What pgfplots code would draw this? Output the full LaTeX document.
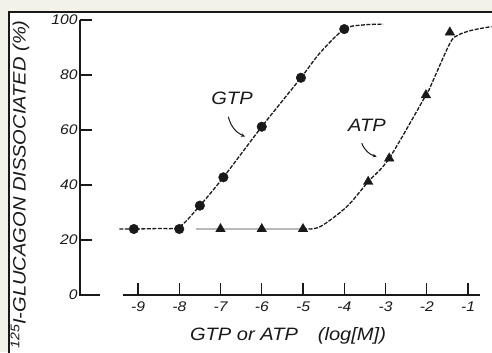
\documentclass[border=0pt]{standalone}
\usepackage{fontspec}
\setmainfont{Liberation Sans}[FakeStretch=1.12]
\usepackage{pgfplots}
\pgfplotsset{compat=1.18}
\usetikzlibrary{arrows.meta}
\definecolor{cream}{RGB}{243,242,233}
\definecolor{ink}{RGB}{25,25,25}
\begin{document}
\begin{tikzpicture}[x=1bp,y=1bp]
\useasboundingbox (0,0) rectangle (492,352);
\fill[cream] (0,0) rectangle (492,352);
\fill[white] (9,0) rectangle (492,340);
\draw[ink, line width=1.6bp] (9,-2) -- (9,340) -- (494,340);
\begin{axis}[
  at={(80bp,57bp)}, anchor=south west,
  scale only axis, width=416.87bp, height=275bp,
  xmin=-10.406, xmax=-0.3, ymin=0, ymax=100,
  clip=false,
  axis line style={draw=none},
  tick pos=left, tick align=inside,
  major tick length=12bp,
  tick style={ink, line width=1.1bp},
  xtick={-9,-8,-7,-6,-5,-4,-3,-2,-1},
  xticklabels={-9,-8,-7,-6,-5,-4,-3,-2,-1},
  ytick={0,20,40,60,80,100},
  yticklabels={0,20,40,60,80,100},
  ticklabel style={font=\fontsize{14}{16}\selectfont\itshape, text=ink},
  xticklabel style={yshift=-3bp},
  yticklabel style={xshift=1bp},
]
% axis lines
\draw[ink, line width=1.5bp] (axis cs:-10.406,100) -- (axis cs:-10.406,0) -- (axis cs:-9.921,0);
\draw[ink, line width=1.5bp] (axis cs:-9.364,0) -- (axis cs:-0.709,0);
% ATP flat part (grey)
\addplot[gray!55, line width=1.8bp] coordinates {(-7.6,24) (-5,24)};
% GTP curve
\addplot[ink, line width=1.3bp, dash pattern=on 4bp off 1.5bp, smooth, tension=0.5] coordinates {
(-9.45,24) (-9.1,24) (-8.5,24.2) (-8.0,24.8) (-7.5,32.5) (-6.93,42.8) (-6.0,61.2)
(-5.05,79) (-4.59,88) (-4.0,96.7) (-3.54,98.2) (-3.06,98.5)};
% ATP curve
\addplot[ink, line width=1.3bp, dash pattern=on 4bp off 1.5bp, smooth, tension=0.5] coordinates {
(-5,24) (-4.59,24.8) (-3.94,32.1) (-3.42,41.2) (-2.91,49.7) (-2.02,72.7)
(-1.92,75.5) (-1.44,91.5) (-1.24,94.5) (-0.9,96.3) (-0.43,97.6)};
% markers
\addplot[only marks, mark=*, mark size=4.8bp, ink] coordinates {
(-9.1,24) (-8,24) (-7.5,32.5) (-6.93,42.8) (-6,61.2) (-5.05,79) (-4,96.7)};
\addplot[only marks, mark=triangle*, mark size=5.5bp, ink] coordinates {
(-7,24) (-6,24) (-5,24) (-3.42,41.2) (-2.91,49.7) (-2.02,72.7) (-1.44,95.5)};
% annotations
\node[font=\fontsize{18}{20}\selectfont\itshape, text=ink] at (axis cs:-6.721,71.6) {GTP};
\node[font=\fontsize{18}{20}\selectfont\itshape, text=ink] at (axis cs:-3.448,61.8) {ATP};
\draw[ink, line width=1bp, -{Stealth[length=4bp,width=3.5bp]}] (axis cs:-6.811,64.8) to[bend right=25] (axis cs:-6.406,57.6);
\draw[ink, line width=1bp, -{Stealth[length=4bp,width=3.5bp]}] (axis cs:-3.577,55.2) to[bend right=25] (axis cs:-3.213,50.3);
\end{axis}
\node[rotate=90, font=\fontsize{18}{20}\selectfont\itshape, text=ink] at (20,167.5) {\textsuperscript{125}I-GLUCAGON DISSOCIATED (\%)};
\node[font=\fontsize{18}{20}\selectfont\itshape, text=ink] at (288,16) {GTP or ATP\hspace{20bp}(log[M])};
\end{tikzpicture}
\end{document}
